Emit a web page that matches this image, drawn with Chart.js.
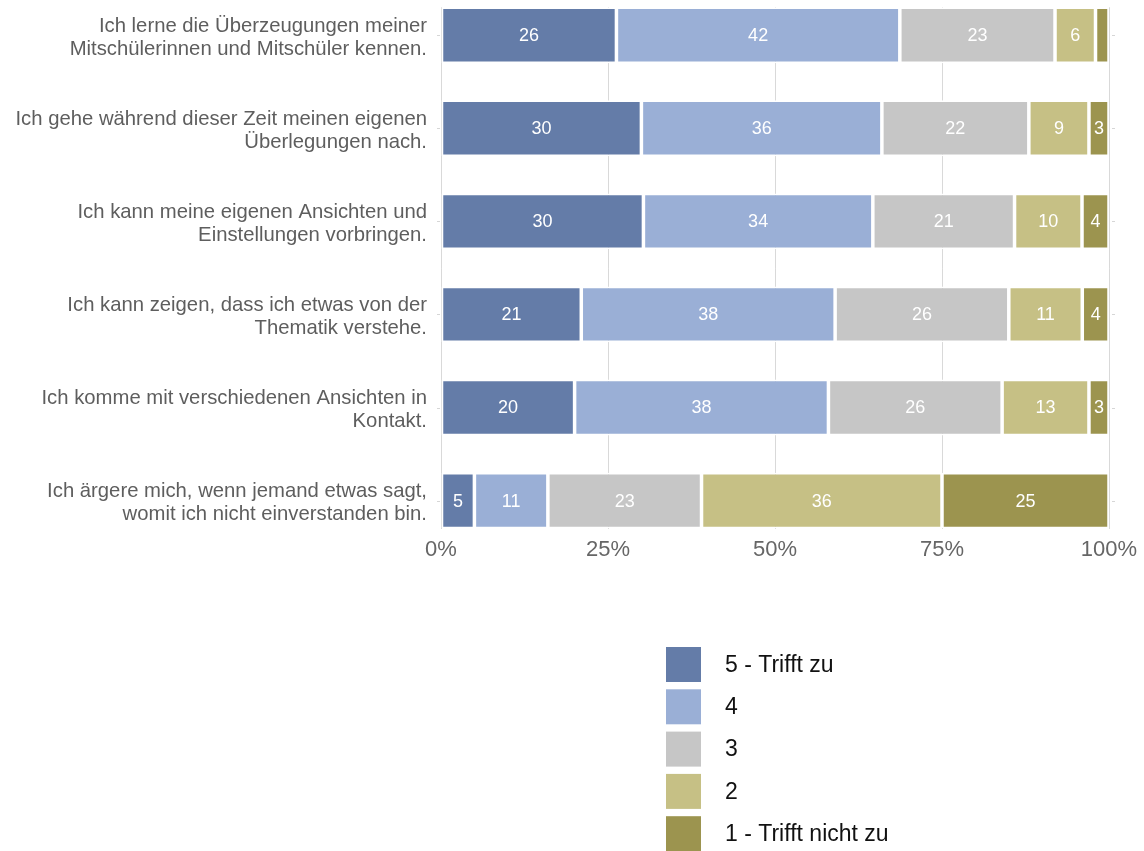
<!DOCTYPE html>
<html>
<head>
<meta charset="utf-8">
<script src="https://cdn.jsdelivr.net/npm/chart.js@4/dist/chart.umd.min.js"></script>
<style>
  html, body { margin: 0; padding: 0; background: #ffffff; }
  #wrap { position: relative; width: 1144px; height: 851px; }
</style>
</head>
<body>
<div id="wrap"><canvas id="chart" width="1144" height="851"></canvas></div>
<script>
// Statements (each split over two lines as shown on the axis)
const categories = [
  ['Ich lerne die Überzeugungen meiner', 'Mitschülerinnen und Mitschüler kennen.'],
  ['Ich gehe während dieser Zeit meinen eigenen', 'Überlegungen nach.'],
  ['Ich kann meine eigenen Ansichten und', 'Einstellungen vorbringen.'],
  ['Ich kann zeigen, dass ich etwas von der', 'Thematik verstehe.'],
  ['Ich komme mit verschiedenen Ansichten in', 'Kontakt.'],
  ['Ich ärgere mich, wenn jemand etwas sagt,', 'womit ich nicht einverstanden bin.']
];

// Answer shares in percent per statement
const trifftZu      = [26, 30, 30, 21, 20, 5];
const antwort4      = [42, 36, 34, 38, 38, 11];
const antwort3      = [23, 22, 21, 26, 26, 23];
const antwort2      = [6, 9, 10, 11, 13, 36];
const trifftNichtZu = [2, 3, 4, 4, 3, 25];

const seriesLabels = ['5 - Trifft zu', '4', '3', '2', '1 - Trifft nicht zu'];
const seriesColors = ['#647ca8', '#9aafd6', '#c6c6c6', '#c6c085', '#9c944f'];
const xTicks = [0, 25, 50, 75, 100];

const seriesValues = [trifftZu, antwort4, antwort3, antwort2, trifftNichtZu];
const FONT = '"Liberation Sans", Arial, Helvetica, sans-serif';

// Each bar is filled to 100 %: shares are scaled by the row total
const rowTotals = categories.map((_, i) => seriesValues.reduce((s, arr) => s + arr[i], 0));

const datasets = seriesValues.map((vals, si) => ({
  label: seriesLabels[si],
  data: vals.map((v, i) => ({ x: v / rowTotals[i] * 100, y: i + 1 })),
  backgroundColor: seriesColors[si],
  borderColor: '#ffffff',
  borderWidth: 1.75,
  borderSkipped: false,
  stack: 'all',
  categoryPercentage: 1,
  barPercentage: 0.6
}));

// White numbers in the middle of each segment (small shares stay unlabelled)
const valueLabels = {
  id: 'valueLabels',
  afterDatasetsDraw(chart) {
    const ctx = chart.ctx;
    ctx.save();
    ctx.font = '18px ' + FONT;
    ctx.fillStyle = '#ffffff';
    ctx.textAlign = 'center';
    ctx.textBaseline = 'middle';
    chart.data.datasets.forEach((ds, di) => {
      chart.getDatasetMeta(di).data.forEach((bar, i) => {
        const v = seriesValues[di][i];
        if (v < 3) return;
        const p = bar.getProps(['x', 'y', 'base'], true);
        ctx.fillText(String(v), (p.x + p.base) / 2, p.y + 1);
      });
    });
    ctx.restore();
  }
};

// Short axis tick marks on both sides of every row
const rowTicks = {
  id: 'rowTicks',
  afterDraw(chart) {
    const ctx = chart.ctx;
    const yScale = chart.scales.y;
    const { left, right } = chart.chartArea;
    ctx.save();
    ctx.strokeStyle = '#d6d6d6';
    ctx.lineWidth = 1;
    categories.forEach((_, i) => {
      const y = Math.round(yScale.getPixelForValue(i + 1)) + 0.5;
      ctx.beginPath();
      ctx.moveTo(left - 4, y); ctx.lineTo(left - 1, y);
      ctx.moveTo(right + 3, y); ctx.lineTo(right + 6, y);
      ctx.stroke();
    });
    ctx.restore();
  }
};

// Vertical legend below the bars
const legendBox = {
  id: 'legendBox',
  afterDraw(chart) {
    const ctx = chart.ctx;
    const keyLeft = 666, keyTop = 647, key = 35, step = 42.3, textLeft = 725;
    ctx.save();
    ctx.font = '23px ' + FONT;
    ctx.textAlign = 'left';
    ctx.textBaseline = 'middle';
    chart.data.datasets.forEach((ds, i) => {
      const top = keyTop + i * step;
      ctx.fillStyle = ds.backgroundColor;
      ctx.fillRect(keyLeft, top, key, key);
      ctx.fillStyle = '#111111';
      ctx.fillText(ds.label, textLeft, top + key / 2 + 1);
    });
    ctx.restore();
  }
};

new Chart(document.getElementById('chart'), {
  type: 'bar',
  data: { datasets },
  plugins: [valueLabels, rowTicks, legendBox],
  options: {
    indexAxis: 'y',
    responsive: false,
    animation: false,
    layout: { padding: { left: 0, right: 35, top: 7.3, bottom: 281 } },
    plugins: {
      legend: { display: false },
      tooltip: { enabled: false }
    },
    scales: {
      x: {
        type: 'linear',
        stacked: true,
        min: 0,
        max: 100,
        afterBuildTicks: s => { s.ticks = xTicks.map(v => ({ value: v })); },
        ticks: {
          callback: v => v + '%',
          color: '#666666',
          font: { family: FONT, size: 22 },
          padding: 8.5
        },
        grid: { color: '#d9d9d9', lineWidth: 1, drawTicks: false },
        border: { display: false },
        afterFit: s => { s.height = 41.5; s.paddingLeft = 0; s.paddingRight = 0; }
      },
      y: {
        type: 'linear',
        reverse: true,
        offset: false,
        min: 0.7,
        max: 6.3,
        afterBuildTicks: s => { s.ticks = categories.map((_, i) => ({ value: i + 1 })); },
        ticks: {
          callback: v => categories[v - 1],
          color: '#5e5e5e',
          font: { family: FONT, size: 20.3, lineHeight: 1.13 },
          padding: 14,
          labelOffset: 2.5,
          autoSkip: false
        },
        grid: { display: false, drawTicks: false, offset: false },
        border: { display: false },
        afterFit: s => { s.width = 441; s.paddingTop = 0; s.paddingBottom = 0; }
      }
    }
  }
});
</script>
</body>
</html>
